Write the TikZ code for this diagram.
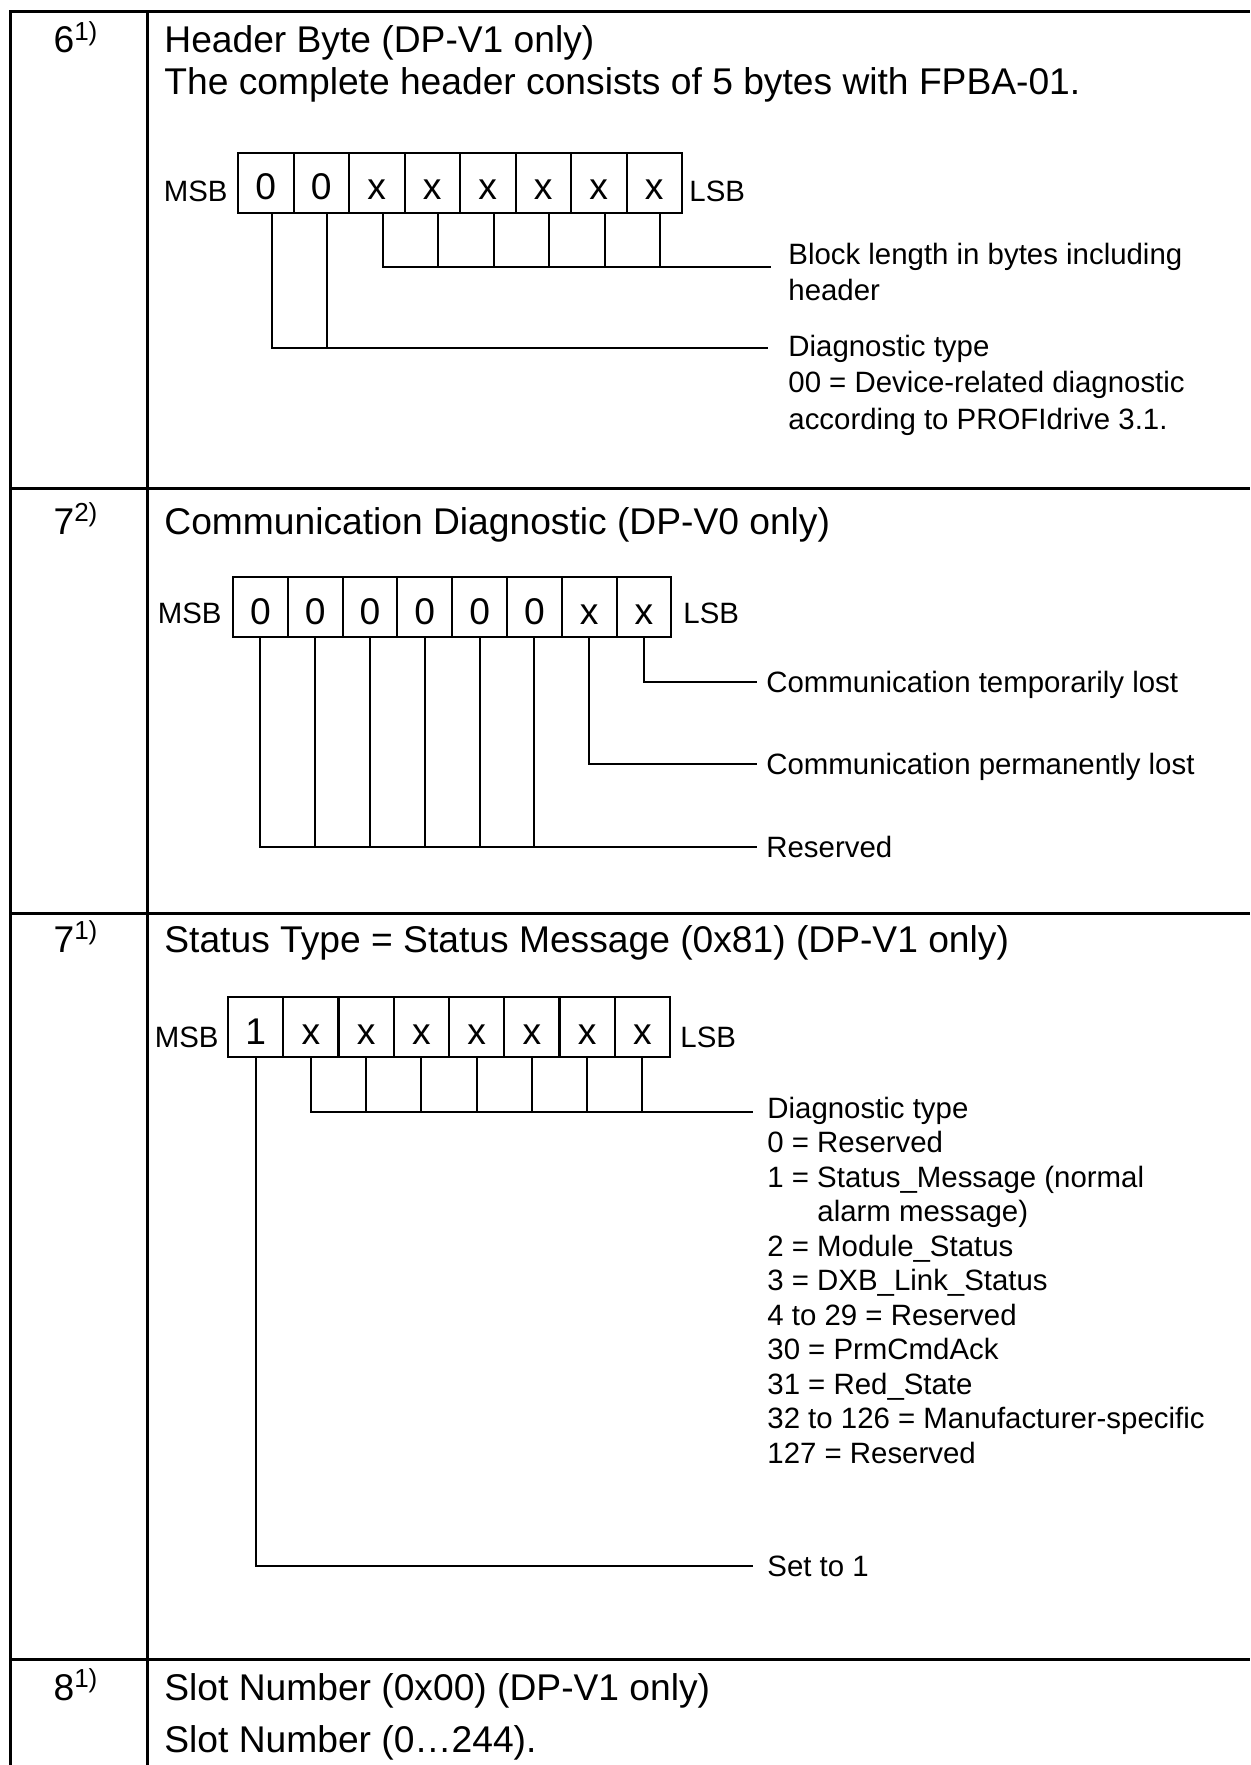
\documentclass[tikz,border=0pt]{standalone}
\usepackage{fontspec}
\setmainfont{Liberation Sans}
\newcommand\titlefont{\fontsize{18.6}{21}\selectfont}
\newcommand\notefont{\fontsize{14.7}{18}\selectfont}

\tikzset{
  rule/.style={line width=1.5pt},
  wire/.style={line width=1pt},
  bitcell/.style={draw, line width=1pt, anchor=north west, inner sep=0pt,
    minimum height=30pt, text height=17pt, text depth=0pt, font=\titlefont},
  note/.style={anchor=base west, inner sep=0pt, align=left, font=\notefont},
  head/.style={anchor=base west, inner sep=0pt, align=left, font=\titlefont},
  rowno/.style={anchor=base, inner sep=0pt, font=\titlefont},
}

\begin{document}
\begin{tikzpicture}[x=0.5pt,y=-0.5pt]
\useasboundingbox (0,0) rectangle (1250,1765);

% table frame
\draw[rule] (10,1765) -- (10,12) -- (1250,12);
\draw[rule] (147,12) -- (147,1765);
\foreach \y in {488,913,1659}
  \draw[rule] (10,\y) -- (1250,\y);

% row 6: header byte (multi-line nodes sit on their last line)
\node[rowno] (n6) at (76,53) {6\textsuperscript{1)}};
\node[head] (hhead) at (164,95) {Header Byte (DP-V1 only)\\The complete header consists of 5 bytes with FPBA-01.};
\foreach \b [count=\i] in {0,0,x,x,x,x,x,x}
  \node[bitcell, minimum width=27.75pt] (h\i) at ({237+55.5*(\i-1)},152) {\b};
\node[note, anchor=base east] (hmsb) at (228,202) {MSB};
\node[note] (hlsb) at (689,202) {LSB};
\coordinate (hlen) at (771,267);
\coordinate (htype) at (768,348);
\draw[wire] ([xshift=3.1pt]h3.south) |- (hlen);
\foreach \i in {4,...,8}
  \draw[wire] ([xshift=3.1pt]h\i.south) -- ([xshift=3.1pt]h\i.south |- hlen);
\draw[wire] ([xshift=3.1pt]h1.south) |- (htype);
\draw[wire] ([xshift=3.1pt]h2.south) -- ([xshift=3.1pt]h2.south |- htype);
\node[note] (hlenlbl) at (788,301) {Block length in bytes including\\header};
\node[note] (htypelbl) at (788,429) {Diagnostic type\\00 = Device-related diagnostic\\according to PROFIdrive 3.1.};

% row 7: communication diagnostic
\node[rowno] (n7a) at (76,534) {7\textsuperscript{2)}};
\node[head] (chead) at (164,534) {Communication Diagnostic (DP-V0 only)};
\foreach \b [count=\i] in {0,0,0,0,0,0,x,x}
  \node[bitcell, minimum width=27.4pt] (c\i) at ({232+54.8*(\i-1)},576) {\b};
\node[note, anchor=base east] (cmsb) at (222,623) {MSB};
\node[note] (clsb) at (683,623) {LSB};
\coordinate (ctmp) at (757,682);
\coordinate (cperm) at (757,764);
\coordinate (cres) at (757,847);
\draw[wire] (c8.south) |- (ctmp);
\draw[wire] (c7.south) |- (cperm);
\draw[wire] (c1.south) |- (cres);
\foreach \i in {2,...,6}
  \draw[wire] (c\i.south) -- (c\i.south |- cres);
\node[note] (ctmplbl) at (766,692) {Communication temporarily lost};
\node[note] (cpermlbl) at (766,774) {Communication permanently lost};
\node[note] (creslbl) at (766,857) {Reserved};

% row 7: status type
\node[rowno] (n7b) at (76,952) {7\textsuperscript{1)}};
\node[head] (shead) at (164,952) {Status Type = Status Message (0x81) (DP-V1 only)};
\foreach \b [count=\i] in {1,x,x,x,x,x,x,x}
  \node[bitcell, minimum width=27.6pt] (s\i) at ({227+55.25*(\i-1)},996) {\b};
\node[note, anchor=base east] (smsb) at (219,1047) {MSB};
\node[note] (slsb) at (680,1047) {LSB};
\coordinate (stype) at (753,1112);
\coordinate (sset) at (753,1566);
\draw[wire] (s2.south) |- (stype);
\foreach \i in {3,...,8}
  \draw[wire] (s\i.south) -- (s\i.south |- stype);
\draw[wire] (s1.south) |- (sset);
\node[note, font=\fontsize{14.7}{17.25}\selectfont] (stypelbl) at (767,1463) {Diagnostic type\\0 = Reserved\\1 = Status\_Message (normal\\\hspace*{25pt}alarm message)\\2 = Module\_Status\\3 = DXB\_Link\_Status\\4 to 29 = Reserved\\30 = PrmCmdAck\\31 = Red\_State\\32 to 126 = Manufacturer-specific\\127 = Reserved};
\node[note] (ssetlbl) at (767,1576) {Set to 1};

% row 8: slot number
\node[rowno] (n8) at (76,1700) {8\textsuperscript{1)}};
\node[head] (slot) at (164,1752) {Slot Number (0x00) (DP-V1 only)\\[5pt]Slot Number (0…244).};
\end{tikzpicture}
\end{document}
